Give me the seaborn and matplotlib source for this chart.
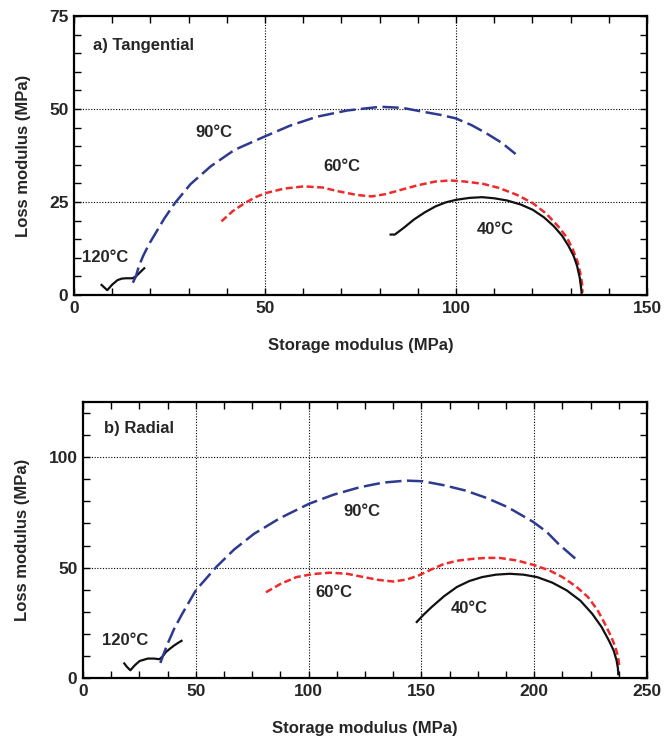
import numpy as np
import pandas as pd
import seaborn as sns
import matplotlib
matplotlib.use("Agg")
import matplotlib.pyplot as plt
from matplotlib.ticker import MultipleLocator, FixedLocator
from matplotlib import font_manager

# ---------------- data: a) Tangential ----------------
t120_x = [7.0, 8.7, 10.0, 11.4, 12.5, 13.6, 15.3, 16.2, 17.0, 18.6]
t120_y = [2.9, 1.3, 2.8, 4.0, 4.4, 4.5, 4.5, 5.0, 5.8, 7.4]

t90_x = [15.4, 16.2, 17.0, 18.1, 19.6, 21.4, 23.6, 26.4, 30.5, 35.8, 42.0, 49.9, 56.5, 63.5,
         71.5, 80.2, 86.0, 91.2, 96.0, 99.9, 104.0, 107.9, 112.0, 115.6]
t90_y = [3.3, 5.0, 7.8, 10.5, 13.6, 16.7, 20.5, 24.7, 29.8, 34.6, 39.0, 42.6, 45.5, 47.9,
         49.6, 50.6, 50.3, 49.3, 48.4, 47.5, 45.7, 43.5, 40.9, 37.9]

t60_x = [38.6, 41.5, 44.7, 47.5, 50.2, 55.0, 60.2, 65.0, 69.1, 74.0, 77.9, 81.5, 85.7, 90.0,
         94.6, 98.5, 102.3, 107.0, 111.2, 116.0, 120.1, 123.7, 126.7, 129.0, 130.6, 131.8,
         132.5, 133.0, 133.1]
t60_y = [19.8, 22.5, 24.7, 26.3, 27.4, 28.6, 29.2, 28.9, 27.9, 26.9, 26.5, 27.1, 28.3, 29.5,
         30.5, 30.8, 30.5, 29.9, 28.8, 26.9, 24.7, 21.8, 18.5, 15.5, 12.2, 9.0, 6.0, 3.0, 0.6]

t40_x = [82.6, 84.0, 86.5, 89.0, 91.8, 94.6, 97.3, 100.1, 103.5, 106.8, 110.0, 113.4, 117.0,
         120.1, 123.0, 125.6, 127.8, 129.5, 130.8, 131.7, 132.4, 132.8, 132.9]
t40_y = [16.25, 16.25, 18.2, 20.3, 22.2, 23.8, 24.9, 25.6, 26.1, 26.3, 26.0, 25.4, 24.3,
         22.9, 20.9, 18.5, 15.9, 13.1, 10.5, 7.8, 4.6, 1.5, 0.3]

# ---------------- data: b) Radial ----------------
r120_x = [18.0, 19.5, 21.0, 23.0, 25.1, 28.7, 31.5, 33.9, 35.3, 36.8, 38.7, 40.5, 42.3, 44.1]
r120_y = [7.0, 5.0, 3.5, 5.8, 7.7, 8.8, 8.8, 8.5, 9.8, 11.8, 13.4, 14.8, 16.0, 17.1]

r90_x = [34.3, 35.6, 37.5, 40.5, 44.0, 50.0, 59.0, 67.0, 75.8, 87.5, 100.2, 111.0, 122.7,
         133.0, 143.3, 150.7, 160.0, 169.5, 179.0, 188.2, 199.4, 205.5, 210.7, 215.5, 220.0]
r90_y = [6.8, 10.5, 15.5, 22.5, 29.1, 39.7, 50.2, 58.2, 65.3, 72.5, 78.9, 83.0, 86.4,
         88.5, 89.4, 89.1, 87.3, 84.9, 81.5, 77.4, 70.8, 66.2, 60.8, 56.5, 52.5]

r60_x = [81.1, 87.5, 94.6, 102.0, 109.6, 117.0, 124.5, 131.0, 137.6, 143.5, 148.9, 154.5,
         160.1, 166.5, 173.2, 178.8, 184.5, 192.5, 200.4, 206.8, 212.5, 218.5, 223.8, 228.0,
         231.3, 234.0, 236.0, 237.2, 237.8]
r60_y = [38.8, 42.6, 45.7, 47.1, 47.7, 47.2, 45.7, 44.4, 43.7, 44.6, 46.5, 49.2, 51.7, 53.2,
         54.0, 54.4, 54.4, 53.2, 51.0, 48.7, 45.7, 41.5, 36.7, 30.9, 24.6, 19.0, 14.0, 9.4, 5.0]

r40_x = [147.6, 150.8, 154.5, 160.0, 165.7, 171.2, 176.9, 183.0, 189.1, 195.3, 201.3, 208.0,
         214.4, 220.5, 225.7, 229.8, 233.1, 235.2, 236.5, 237.1, 237.3]
r40_y = [25.0, 28.5, 32.1, 37.0, 41.2, 43.9, 45.7, 46.8, 47.2, 46.8, 45.7, 43.2, 39.7,
         35.0, 29.1, 23.2, 17.0, 12.5, 8.0, 4.5, 1.2]

# ---------------- styling ----------------
sns.set_theme(style="white")
avail = {f.name for f in font_manager.fontManager.ttflist}
fams = [f for f in ["Liberation Sans Narrow", "Liberation Sans", "DejaVu Sans"] if f in avail]
plt.rcParams["font.family"] = fams
plt.rcParams["font.weight"] = "bold"

BLUE = "#2e3a8f"
RED = "#ee2a2a"
BLACK = "#111111"

fig = plt.figure(figsize=(6.64, 7.38), dpi=100)
ax1 = fig.add_axes([74 / 664, 1 - 295 / 738, (647 - 74) / 664, (295 - 16) / 738])
ax2 = fig.add_axes([83 / 664, 1 - 678 / 738, (647 - 83) / 664, (678 - 402) / 738])


def curve(ax, xs, ys, color, dashes, lw=1.8):
    df = pd.DataFrame({"x": xs, "y": ys})
    sns.lineplot(data=df, x="x", y="y", ax=ax, sort=False, estimator=None,
                 color=color, lw=lw)
    l = ax.get_lines()[-1]
    if dashes is not None:
        l.set_dashes(dashes)
    l.set_solid_capstyle("butt")
    l.set_dash_capstyle("butt")
    l.set_solid_joinstyle("round")


def style_axes(ax, xlim, ylim, xmaj, xmin, ymaj, ymin, grid_x, grid_y):
    ax.set_xlim(*xlim)
    ax.set_ylim(*ylim)
    ax.xaxis.set_major_locator(FixedLocator(xmaj))
    ax.yaxis.set_major_locator(FixedLocator(ymaj))
    ax.xaxis.set_minor_locator(MultipleLocator(xmin))
    ax.yaxis.set_minor_locator(MultipleLocator(ymin))
    ax.tick_params(which="both", direction="in", top=True, right=True,
                   bottom=True, left=True, length=5, width=1.0, color="black")
    ax.tick_params(which="major", labelsize=12.5, pad=4)
    for lab in ax.get_xticklabels() + ax.get_yticklabels():
        lab.set_fontweight("bold")
    for s in ax.spines.values():
        s.set_color("black")
        s.set_linewidth(1.6)
    for g in grid_x:
        ax.axvline(g, color="black", lw=0.8, ls=(0, (1, 1.5)), zorder=0)
    for g in grid_y:
        ax.axhline(g, color="black", lw=0.8, ls=(0, (1, 1.5)), zorder=0)
    ax.set_xlabel("Storage modulus (MPa)", fontsize=12, fontweight="bold", labelpad=16)
    ax.set_ylabel("Loss modulus (MPa)", fontsize=12, fontweight="bold", labelpad=13)


# ---- panel a ----
curve(ax1, t120_x, t120_y, BLACK, None, 1.6)
curve(ax1, t90_x, t90_y, BLUE, (6.5, 2.2))
curve(ax1, t60_x, t60_y, RED, (2.8, 1.4))
curve(ax1, t40_x, t40_y, BLACK, None, 1.6)
style_axes(ax1, (0, 150), (0, 75), [0, 50, 100, 150], 10, [0, 25, 50, 75], 5, [50, 100], [25, 50])
ax1.text(5, 67, "a) Tangential", fontsize=12, fontweight="bold", va="center", ha="left")
ax1.text(36.6, 43.7, "90°C", fontsize=12, fontweight="bold", va="center", ha="center")
ax1.text(70, 34.6, "60°C", fontsize=12, fontweight="bold", va="center", ha="center")
ax1.text(110.4, 17.7, "40°C", fontsize=12, fontweight="bold", va="center", ha="center")
ax1.text(8.2, 10, "120°C", fontsize=12, fontweight="bold", va="center", ha="center")

# ---- panel b ----
curve(ax2, r120_x, r120_y, BLACK, None, 1.6)
curve(ax2, r90_x, r90_y, BLUE, (6.5, 2.2))
curve(ax2, r60_x, r60_y, RED, (2.8, 1.4))
curve(ax2, r40_x, r40_y, BLACK, None, 1.6)
style_axes(ax2, (0, 250), (0, 125), [0, 50, 100, 150, 200, 250], 12.5, [0, 50, 100], 10,
           [50, 100, 150, 200], [50, 100])
ax2.text(9.2, 113, "b) Radial", fontsize=12, fontweight="bold", va="center", ha="left")
ax2.text(123.4, 75.6, "90°C", fontsize=12, fontweight="bold", va="center", ha="center")
ax2.text(111.2, 38.8, "60°C", fontsize=12, fontweight="bold", va="center", ha="center")
ax2.text(171.1, 31.7, "40°C", fontsize=12, fontweight="bold", va="center", ha="center")
ax2.text(18.6, 17, "120°C", fontsize=12, fontweight="bold", va="center", ha="center")

fig.savefig("out.png", dpi=100)
